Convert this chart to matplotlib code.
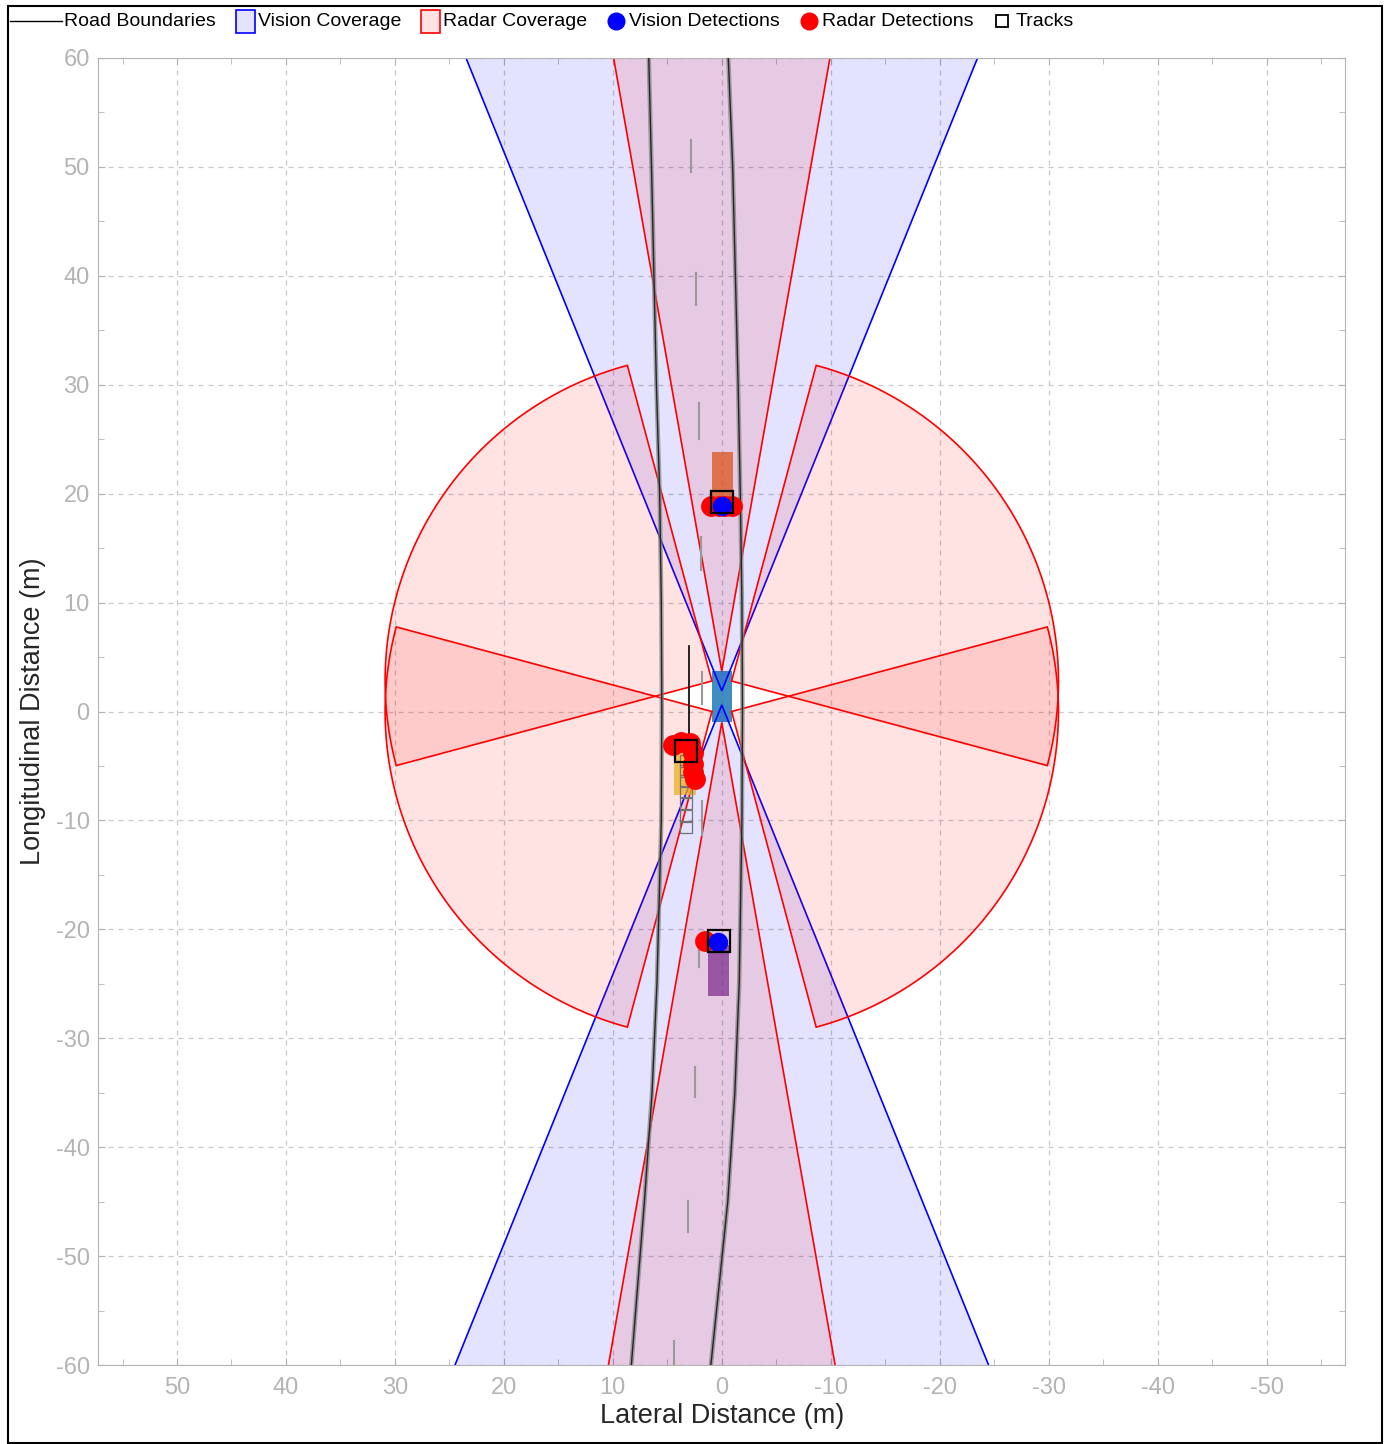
import numpy as np
import matplotlib.pyplot as plt
from matplotlib.patches import Polygon, Rectangle

plt.rcParams['font.family'] = ['Liberation Sans', 'DejaVu Sans']
plt.rcParams['axes.unicode_minus'] = False

# road boundaries: lateral (m) at given longitudinal (m)
road_y = [60, 50, 30, 20, 10, 0, -10, -25, -35, -45, -60]
road_left_x = [6.7, 6.45, 6.0, 5.7, 5.55, 5.5, 5.55, 5.95, 6.4, 7.1, 8.3]
road_right_x = [-0.6, -1.0, -1.5, -1.7, -1.85, -1.9, -1.85, -1.6, -1.2, -0.55, 1.0]

# dashed centre lane marking segments
dash_x = [2.8, 2.4, 2.1, 1.9, 1.8, 1.8, 2.1, 2.5, 3.1, 4.4]
dash_y0 = [52.5, 40.3, 28.3, 16.0, 3.6, -8.2, -21.0, -32.6, -44.9, -57.8]
dash_y1 = [49.5, 37.3, 25.0, 13.0, 0.7, -11.3, -23.5, -35.4, -47.8, -60.0]

# sensors: lateral, longitudinal, yaw (deg, + to the left), fov (deg), range (m)
vision_sensors = [(0.0, 1.9, 0, 44, 150), (0.0, 0.6, 180, 44, 150)]
radar_sensors = [(0.0, 3.7, 0, 20, 174), (0.0, -1.0, 180, 20, 174),
                 (0.9, 2.8, 60, 90, 30), (-0.9, 2.8, -60, 90, 30),
                 (0.9, 0.0, 120, 90, 30), (-0.9, 0.0, -120, 90, 30)]

# vehicles: lateral min, lateral max, long min, long max
ego_box = (-0.9, 0.9, -1.0, 3.7)
car_boxes = [(-1.0, 0.9, 19.1, 23.8), (2.4, 4.4, -7.7, -3.0), (-0.7, 1.3, -26.1, -21.4)]
car_colors = [(0.85, 0.325, 0.098), (0.929, 0.694, 0.125), (0.494, 0.184, 0.556)]

# detections and tracks
radar_det_x = [0.95, 0.3, -0.3, -0.95, 4.5, 3.7, 2.9, 2.6, 2.6, 2.6, 2.5, 1.5]
radar_det_y = [18.9, 18.9, 18.9, 18.9, -3.1, -2.8, -2.9, -3.8, -4.8, -5.6, -6.2, -21.1]
vision_det_x = [0.0, 0.35]
vision_det_y = [18.9, -21.2]
track_x = [0.0, 3.3, 0.3]
track_y = [19.2, -3.6, -21.1]
hist_x = [3.3, 3.3, 3.3, 3.3, 3.3, 3.3, 3.3]
hist_y = [-4.5, -5.5, -6.4, -7.4, -8.4, -9.6, -10.6]
track_line_x = [3.0, 3.0]
track_line_y = [6.0, -3.6]

fig = plt.figure(figsize=(13.84, 14.44), dpi=100)
ax = fig.add_axes([98 / 1384, 1 - 1365 / 1444, 1247 / 1384, 1307 / 1444])


def wedge(x0, y0, yaw, fov, rng):
    a = np.radians(np.linspace(yaw - fov / 2, yaw + fov / 2, 90))
    px = np.concatenate([[x0], x0 + rng * np.sin(a)])
    py = np.concatenate([[y0], y0 + rng * np.cos(a)])
    return np.column_stack([px, py])


for s in vision_sensors:
    ax.add_patch(Polygon(wedge(*s), closed=True, facecolor=(0, 0, 1, 0.11),
                         edgecolor='#0000ff', lw=1.2, zorder=2))
for s in radar_sensors:
    ax.add_patch(Polygon(wedge(*s), closed=True, facecolor=(1, 0, 0, 0.11),
                         edgecolor='#ff0000', lw=1.2, zorder=2))

# road
for rx in (road_left_x, road_right_x):
    ax.plot(rx, road_y, color='0.5', lw=3.2, alpha=0.7, zorder=3)
    ax.plot(rx, road_y, color='0.15', lw=1, zorder=3)
for x, y0, y1 in zip(dash_x, dash_y0, dash_y1):
    ax.plot([x, x], [y0, y1], color='0.6', lw=1.5, zorder=3)

# vehicles
x0, x1, y0, y1 = ego_box
ax.add_patch(Rectangle((x0, y0), x1 - x0, y1 - y0, facecolor=(0.12, 0.47, 0.71),
                       alpha=0.85, lw=0, zorder=1.8))
for (x0, x1, y0, y1), c in zip(car_boxes, car_colors):
    ax.add_patch(Rectangle((x0, y0), x1 - x0, y1 - y0, facecolor=c,
                           alpha=0.75, lw=0, zorder=4))

# track history and heading
ax.plot(hist_x, hist_y, 's', ms=8, mfc='none', mec='0.45', mew=0.9, zorder=4.5)
ax.plot(track_line_x, track_line_y, color='k', lw=1.2, zorder=4.6)

ax.plot(radar_det_x, radar_det_y, 'o', ms=15, color='#ff0000', mec='none', zorder=5)
ax.plot(vision_det_x, vision_det_y, 'o', ms=14, color='#0000ff', mec='none', zorder=6)
ax.plot(track_x, track_y, 's', ms=16, mfc='none', mec='k', mew=1.6, zorder=7)

ax.set_xlim(57.25, -57.2)
ax.set_ylim(-60, 60)
ax.set_xticks(np.arange(-50, 51, 10))
ax.set_yticks(np.arange(-60, 61, 10))
ax.set_xticks(np.arange(-55, 56, 5), minor=True)
ax.set_yticks(np.arange(-60, 61, 5), minor=True)
ax.tick_params(which='both', direction='in', top=True, right=True,
               color='#b4b4b4', labelcolor='#b4b4b4', labelsize=17)
ax.tick_params(which='major', length=5)
ax.tick_params(which='minor', length=4)
ax.tick_params(axis='x', pad=9)
ax.tick_params(axis='y', pad=6)
ax.grid(True, which='major', color='#c8c8c8', linestyle=(0, (4, 4)), lw=0.9)
ax.set_axisbelow(True)
for sp in ax.spines.values():
    sp.set_color('#b4b4b4')

# overlay in pixel coordinates for labels, legend and frame
ov = fig.add_axes([0, 0, 1, 1])
ov.set_xlim(0, 1384)
ov.set_ylim(1444, 0)
ov.axis('off')
ov.text(722, 1416, 'Lateral Distance (m)', ha='center', va='center', fontsize=19.5, color='0.15')
ov.text(33, 711, 'Longitudinal Distance (m)', ha='center', va='center', rotation=90,
        fontsize=19.5, color='0.15')

ly = 21
fs = 14
ov.plot([10, 62], [ly, ly], color='k', lw=1)
ov.text(64, ly, 'Road Boundaries', va='center', fontsize=fs)
ov.add_patch(Rectangle((236, 10), 19, 23, facecolor=(0, 0, 1, 0.11), edgecolor='#0000ff', lw=1.2))
ov.text(258, ly, 'Vision Coverage', va='center', fontsize=fs)
ov.add_patch(Rectangle((421, 10), 19, 23, facecolor=(1, 0, 0, 0.11), edgecolor='#ff0000', lw=1.2))
ov.text(443, ly, 'Radar Coverage', va='center', fontsize=fs)
ov.plot([616], [ly], 'o', ms=12, color='#0000ff')
ov.text(629, ly, 'Vision Detections', va='center', fontsize=fs)
ov.plot([809], [ly], 'o', ms=12, color='#ff0000')
ov.text(822, ly, 'Radar Detections', va='center', fontsize=fs)
ov.plot([1002], [ly], 's', ms=8, mfc='none', mec='k', mew=1.3)
ov.text(1016, ly, 'Tracks', va='center', fontsize=fs)
ov.add_patch(Rectangle((8, 6), 1374, 1437, facecolor='none', edgecolor='k', lw=1.5))

fig.savefig('out.png', dpi=100)
